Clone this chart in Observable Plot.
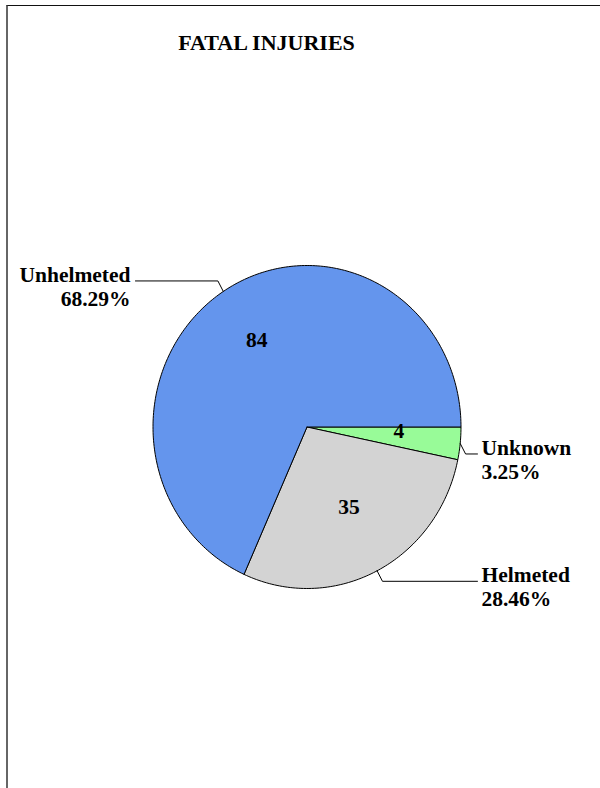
<!DOCTYPE html>
<html>
<head>
<meta charset="utf-8">
<script src="https://cdn.jsdelivr.net/npm/d3@7"></script>
<script src="https://cdn.jsdelivr.net/npm/@observablehq/plot@0.6"></script>
<style>
  html, body { margin: 0; padding: 0; background: white; }
  #wrap { position: relative; width: 600px; height: 788px; overflow: hidden; font-family: "Liberation Serif", "Times New Roman", serif; }
  #frame { position: absolute; left: 6px; top: 5px; width: 700px; height: 900px; border-top: 1.5px solid #111; border-left: 2px solid #666; box-sizing: border-box; }
  #title { position: absolute; left: 0; width: 533px; top: 32px; text-align: center; font-weight: bold; font-size: 22px; line-height: 22px; color: #000; }
  #chart { position: absolute; left: 0; top: 0; }
</style>
</head>
<body>
<div id="wrap">
  <div id="chart"></div>
  <div id="frame"></div>
  <div id="title">FATAL INJURIES</div>
</div>
<script>
// Data (slices in drawing order, clockwise from 3 o'clock)
const names = ["Unknown", "Helmeted", "Unhelmeted"];
const counts = [4, 35, 84];
const percents = ["3.25%", "28.46%", "68.29%"];
const colors = ["#98FB98", "#D3D3D3", "#6495ED"];

const total = d3.sum(counts);
let acc = 0;
const slices = names.map((name, i) => {
  const a0 = acc / total * 2 * Math.PI;
  acc += counts[i];
  const a1 = acc / total * 2 * Math.PI;
  return {name, value: counts[i], pct: percents[i], a0, a1, mid: (a0 + a1) / 2};
});

// Polygon outlines of slices (angles clockwise on screen: x = cos, y = -sin)
const piePts = [];
for (const s of slices) {
  piePts.push({name: s.name, x: 0, y: 0});
  const n = Math.max(2, Math.ceil((s.a1 - s.a0) / (Math.PI / 180)));
  for (let k = 0; k <= n; ++k) {
    const a = s.a0 + (s.a1 - s.a0) * k / n;
    piePts.push({name: s.name, x: Math.cos(a), y: -Math.sin(a)});
  }
  piePts.push({name: s.name, x: 0, y: 0});
}

// Leader lines and outer labels
const leaderPts = [];
const outer = [];
for (const s of slices) {
  const ex = Math.cos(s.mid), ey = -Math.sin(s.mid);
  const side = ex >= 0 ? 1 : -1;
  const bx = ex + side * 0.035, by = ey + (ey >= 0 ? 1 : -1) * 0.065;
  const endX = side > 0 ? 1.107 : -1.114;
  leaderPts.push({name: s.name, x: ex, y: ey}, {name: s.name, x: bx, y: by}, {name: s.name, x: endX, y: by});
  outer.push({name: s.name, pct: s.pct, x: side > 0 ? 1.133 : -1.146, y: by, anchor: side > 0 ? "start" : "end"});
}

const inner = slices.map(s => ({text: String(s.value), x: 0.6 * Math.cos(s.mid), y: -0.6 * Math.sin(s.mid)}));

const font = "'Liberation Serif', 'Times New Roman', serif";
const fs = 21.5;

const plot = Plot.plot({
  width: 600,
  height: 788,
  margin: 0,
  style: {background: "transparent", fontFamily: font, overflow: "visible"},
  x: {domain: [-1, 1], range: [152.5, 460.5], axis: null},
  y: {domain: [-1, 1], range: [588, 265], axis: null},
  color: {domain: names, range: colors, legend: false},
  marks: [
    Plot.line(piePts, {x: "x", y: "y", z: "name", fill: "name", stroke: "#000", strokeWidth: 1, strokeLinejoin: "round"}),
    Plot.line(leaderPts, {x: "x", y: "y", z: "name", stroke: "#000", strokeWidth: 1}),
    Plot.text(inner, {x: "x", y: "y", text: "text", fontSize: fs, fontWeight: "bold", fill: "#000", dy: -6}),
    Plot.text(outer.filter(d => d.anchor === "start"), {x: "x", y: "y", text: "name", textAnchor: "start", fontSize: fs, fontWeight: "bold", fill: "#000", dy: -6}),
    Plot.text(outer.filter(d => d.anchor === "start"), {x: "x", y: "y", text: "pct", textAnchor: "start", fontSize: fs, fontWeight: "bold", fill: "#000", dy: 18}),
    Plot.text(outer.filter(d => d.anchor === "end"), {x: "x", y: "y", text: "name", textAnchor: "end", fontSize: fs, fontWeight: "bold", fill: "#000", dy: -6}),
    Plot.text(outer.filter(d => d.anchor === "end"), {x: "x", y: "y", text: "pct", textAnchor: "end", fontSize: fs, fontWeight: "bold", fill: "#000", dy: 18})
  ]
});
document.getElementById("chart").appendChild(plot);
</script>
</body>
</html>
